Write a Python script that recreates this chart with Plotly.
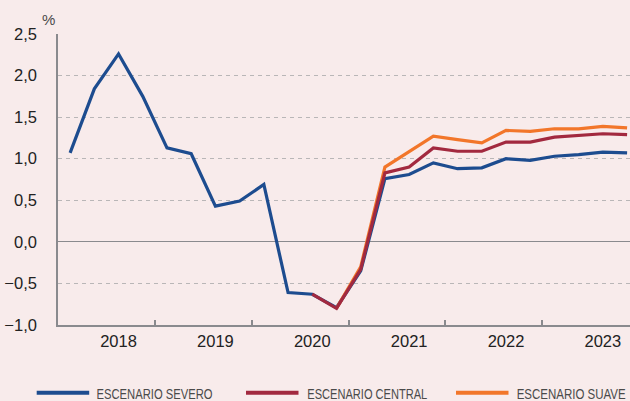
import plotly.graph_objects as go

quarters = list(range(24))  # 2018Q1 .. 2023Q4
year_labels = ["2018", "2019", "2020", "2021", "2022", "2023"]
year_label_pos = [2, 6, 10, 14, 18, 22]
year_bounds = [3.5, 7.5, 11.5, 15.5, 19.5]

severo = [1.07, 1.84, 2.26, 1.75, 1.13, 1.06, 0.43, 0.49, 0.69, -0.61,
          -0.63, -0.79, -0.35, 0.76, 0.81, 0.95, 0.88, 0.89, 1.00, 0.98,
          1.03, 1.05, 1.08, 1.07]
central = [None] * 10 + [-0.63, -0.80, -0.33, 0.83, 0.90, 1.13, 1.09, 1.09,
                         1.20, 1.20, 1.26, 1.28, 1.30, 1.29]
suave = [None] * 11 + [-0.80, -0.30, 0.90, 1.08, 1.27, 1.23, 1.19, 1.34,
                       1.33, 1.36, 1.36, 1.39, 1.37]

names = ["ESCENARIO SEVERO", "ESCENARIO CENTRAL", "ESCENARIO SUAVE"]
colors = ["#1d4c8f", "#a2293f", "#f2762a"]
series = [severo, central, suave]

BG = "#f8ebeb"
W, H = 630, 401
L, R, T, B = 58, 0, 34, 76
pw, ph = W - L - R, H - T - B

fig = go.Figure()
# drawing order: severo, suave, central (central on top)
for i in [0, 2, 1]:
    fig.add_trace(go.Scatter(x=quarters, y=series[i], mode="lines", name=names[i],
                             line=dict(color=colors[i], width=3.2), showlegend=False,
                             connectgaps=False, hoverinfo="skip"))

fig.update_layout(
    width=W, height=H,
    margin=dict(l=L, r=R, t=T, b=B),
    paper_bgcolor=BG, plot_bgcolor=BG,
    separators=",.",
    font=dict(family="Liberation Sans, Arial, sans-serif", color="#222"),
    xaxis=dict(range=[-0.5, 23.12], tickmode="array", tickvals=year_label_pos,
               ticktext=year_labels, ticks="", showgrid=False, zeroline=False,
               showline=True, linecolor="#8a8a8e", linewidth=1.5,
               tickfont=dict(size=16.5, color="#222"),
               minor=dict(tickmode="array", tickvals=year_bounds, ticks="inside",
                          ticklen=5, tickcolor="#8a8a8e", tickwidth=1.5, showgrid=False)),
    yaxis=dict(range=[-1, 2.5], dtick=0.5, tick0=0, tickformat=".1f",
               showgrid=True, gridcolor="#b9b6b7", griddash="4px,4px", gridwidth=1,
               zeroline=True, zerolinecolor="#8a8a8e", zerolinewidth=1.3,
               showline=True, linecolor="#8a8a8e", linewidth=1.5,
               ticks="", ticklabelstandoff=16,
               tickfont=dict(size=16.5, color="#222")),
)

def px2paper(x, y):
    return (x - L) / pw, (H - B - y) / ph

# percent sign
px, py = px2paper(48, 19.5)
fig.add_annotation(x=px, y=py, xref="paper", yref="paper", text="%", showarrow=False,
                   xanchor="center", yanchor="middle",
                   font=dict(size=15, color="#4a4a4a"))

# custom legend (line + condensed label)
leg_y = 392.7
line_starts = [36.7, 246, 456]
text_centers = [154.7, 367.0, 570.5]
for x0, xc, name, col in zip(line_starts, text_centers, names, colors):
    a0, yy = px2paper(x0, leg_y)
    a1, _ = px2paper(x0 + 52.5, leg_y)
    fig.add_shape(type="line", xref="paper", yref="paper", x0=a0, x1=a1, y0=yy, y1=yy,
                  line=dict(color=col, width=4))
    tc, ty = px2paper(xc, leg_y + 0.5)
    fig.add_annotation(x=tc, y=ty, xref="paper", yref="paper", text=name, showarrow=False,
                       xanchor="center", yanchor="middle",
                       font=dict(family="Liberation Sans, Arial, sans-serif",
                                 size=15, color="#4a4a4a"))

post = """
document.body.style.margin='0';
document.body.style.overflow='hidden';
var lens = {'ESCENARIO SEVERO': 116, 'ESCENARIO CENTRAL': 120, 'ESCENARIO SUAVE': 109};
document.querySelectorAll('.annotation-text').forEach(function(t){
  var s = t.textContent;
  if (lens[s]) { t.setAttribute('textLength', lens[s]); t.setAttribute('lengthAdjust', 'spacingAndGlyphs'); }
});
"""
fig.write_html("out.html", config={"displayModeBar": False}, post_script=post)
